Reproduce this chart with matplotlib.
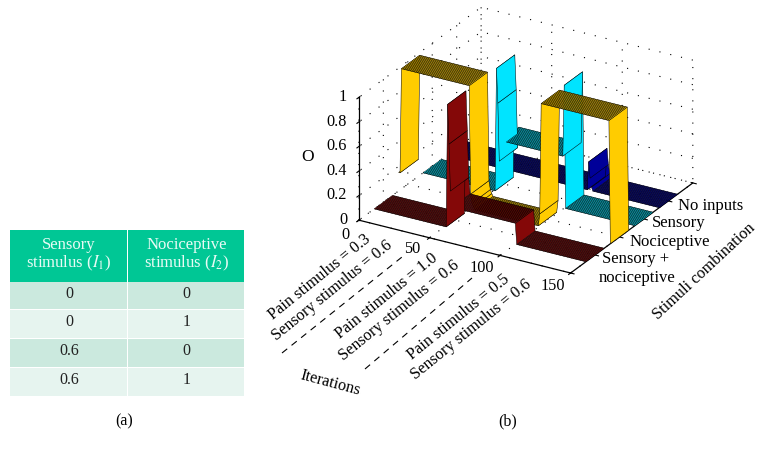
import matplotlib
matplotlib.use("Agg")
import matplotlib.pyplot as plt
from matplotlib.patches import Rectangle
import numpy as np

plt.rcParams['font.family'] = ['Liberation Serif', 'DejaVu Serif']
plt.rcParams['mathtext.fontset'] = 'stix'
plt.rcParams['grid.linestyle'] = (0, (1, 9))
plt.rcParams['grid.linewidth'] = 0.8
plt.rcParams['grid.color'] = 'black'
plt.rcParams['axes.linewidth'] = 0.9

# table values
table_header = ['Sensory\nstimulus ($I_1$)', 'Nociceptive\nstimulus ($I_2$)']
table_rows = [['0', '0'], ['0', '1'], ['0.6', '0'], ['0.6', '1']]

# surface values, one per iteration 0..150
iterations = list(range(151))
red_vals = [0]*52 + [1, 0.68, 0.3, 0.17] + [0.17]*45 + [0]*50
yellow_vals = [0.15, 0.15] + [1]*49 + [0.12, 0.05, 0.02] + [0]*46 + [0.1] + [1]*49 + [0]
cyan_vals = [0]*52 + [1, 0.72, 0.25] + [0.42]*45 + [1] + [0]*50
blue_vals = [0]*100 + [0.23, 0.1, 0.03] + [0]*48

ribbon_y = [1, 2, 3, 4]
ribbon_colors = ['#840808', '#ffcc00', '#00e4ff', '#000099']
ribbon_vals = [red_vals, yellow_vals, cyan_vals, blue_vals]

x_ticks = [0, 50, 100, 150]
y_ticks = [0, 1, 2, 3, 4, 5]
z_ticks = [0, 0.2, 0.4, 0.6, 0.8, 1]
z_labels = ['0', '0.2', '0.4', '0.6', '0.8', '1']

fig = plt.figure(figsize=(7.66, 4.53), dpi=100)

# flat layer in pixel coordinates for the table and the labels
page = fig.add_axes([0, 0, 1, 1])
page.set_xlim(0, 766)
page.set_ylim(453, 0)
page.axis('off')

col_edges = [10, 128, 245]
row_edges = [282, 310, 339, 368, 397]
row_colors = ['#cbe9de', '#e6f4ef', '#cbe9de', '#e6f4ef']
for c in range(2):
    page.add_patch(Rectangle((col_edges[c], 230), col_edges[c+1]-col_edges[c]-1, 51.5, color='#00c795', lw=0))
    page.text((col_edges[c]+col_edges[c+1])/2, 255, table_header[c], color='#e8fbf5', fontsize=12,
              ha='center', va='center', linespacing=1.0)
    for r in range(4):
        page.add_patch(Rectangle((col_edges[c], row_edges[r]), col_edges[c+1]-col_edges[c]-1,
                                 row_edges[r+1]-row_edges[r]-1, color=row_colors[r], lw=0))
        page.text((col_edges[c]+col_edges[c+1])/2, row_edges[r]+12, table_rows[r][c], color='#222222',
                  fontsize=11.5, ha='center', va='center')
page.text(124, 421, '(a)', fontsize=11.5, ha='center', va='center')
page.text(508, 421, '(b)', fontsize=11.5, ha='center', va='center')

# 3d panel
ax = fig.add_axes([341/766, (453-325)/453, 360/766, 360/453], projection='3d', proj_type='ortho',
                  computed_zorder=False)
ax.patch.set_alpha(0)
ax.view_init(elev=25.4, azim=-59.8)
ax.set_box_aspect((245, 243, 136))
ax.set_xlim(0, 150)
ax.set_ylim(0, 5)
ax.set_zlim(0, 1)
ax.set_xticks(x_ticks)
ax.set_yticks(y_ticks)
ax.set_zticks(z_ticks)
ax.set_xticklabels([])
ax.set_yticklabels([])
ax.set_zticklabels([])
for a in [ax.xaxis, ax.yaxis, ax.zaxis]:
    a.set_pane_color((1, 1, 1, 0))
    a.pane.set_edgecolor('none')
ax.zaxis.set_ticks_position('lower')

half = 0.375
for i in range(4):
    z = np.array(ribbon_vals[i])
    x = np.array(iterations)
    X = np.vstack([x, x])
    Y = np.vstack([np.full(len(x), ribbon_y[i]-half), np.full(len(x), ribbon_y[i]+half)])
    Z = np.vstack([z, z])
    ax.plot_surface(X, Y, Z, rstride=1, cstride=1, color=ribbon_colors[i], edgecolor='black',
                    linewidth=0.35, shade=False, zorder=10-i)

# tick labels and rotated annotations
for v, s in zip(z_ticks, z_labels):
    page.text(347, 220-123*v, s, fontsize=11.7, ha='right', va='center')
page.text(308, 157, 'O', fontsize=12.5, ha='center', va='center')

page.text(345, 235, '0', fontsize=11.7, ha='center', va='center')
page.text(412, 249, '50', fontsize=11.7, ha='center', va='center')
page.text(482, 268, '100', fontsize=11.7, ha='center', va='center')
page.text(553, 286, '150', fontsize=11.7, ha='center', va='center')

rot = [('Pain stimulus = 0.3', 320, 277.5), ('Sensory stimulus = 0.6', 332.5, 290.5),
       ('Pain stimulus = 1.0', 386.5, 296), ('Sensory stimulus = 0.6', 399.5, 311),
       ('Pain stimulus = 0.5', 458.5, 317.5), ('Sensory stimulus = 0.6', 471, 330)]
for s, px, py in rot:
    page.text(px, py, s, fontsize=11.7, rotation=39, ha='center', va='center', rotation_mode='anchor')

page.plot([282, 402], [353, 257], color='black', lw=0.8, ls=(0, (6, 5)))
page.plot([365, 472], [369, 278], color='black', lw=0.8, ls=(0, (6, 5)))

page.text(330, 383, 'Iterations', fontsize=11.7, rotation=-15, ha='center', va='center', rotation_mode='anchor')
page.text(704, 272, 'Stimuli combination', fontsize=11.7, rotation=43, ha='center', va='center',
          rotation_mode='anchor')
page.text(711, 206, 'No inputs', fontsize=12, ha='center', va='center')
page.text(679, 223, 'Sensory', fontsize=12, ha='center', va='center')
page.text(670, 242, 'Nociceptive', fontsize=12, ha='center', va='center')
page.text(636, 259, 'Sensory +', fontsize=12, ha='center', va='center')
page.text(637, 278, 'nociceptive', fontsize=12, ha='center', va='center')

fig.savefig('out.png', dpi=100)
